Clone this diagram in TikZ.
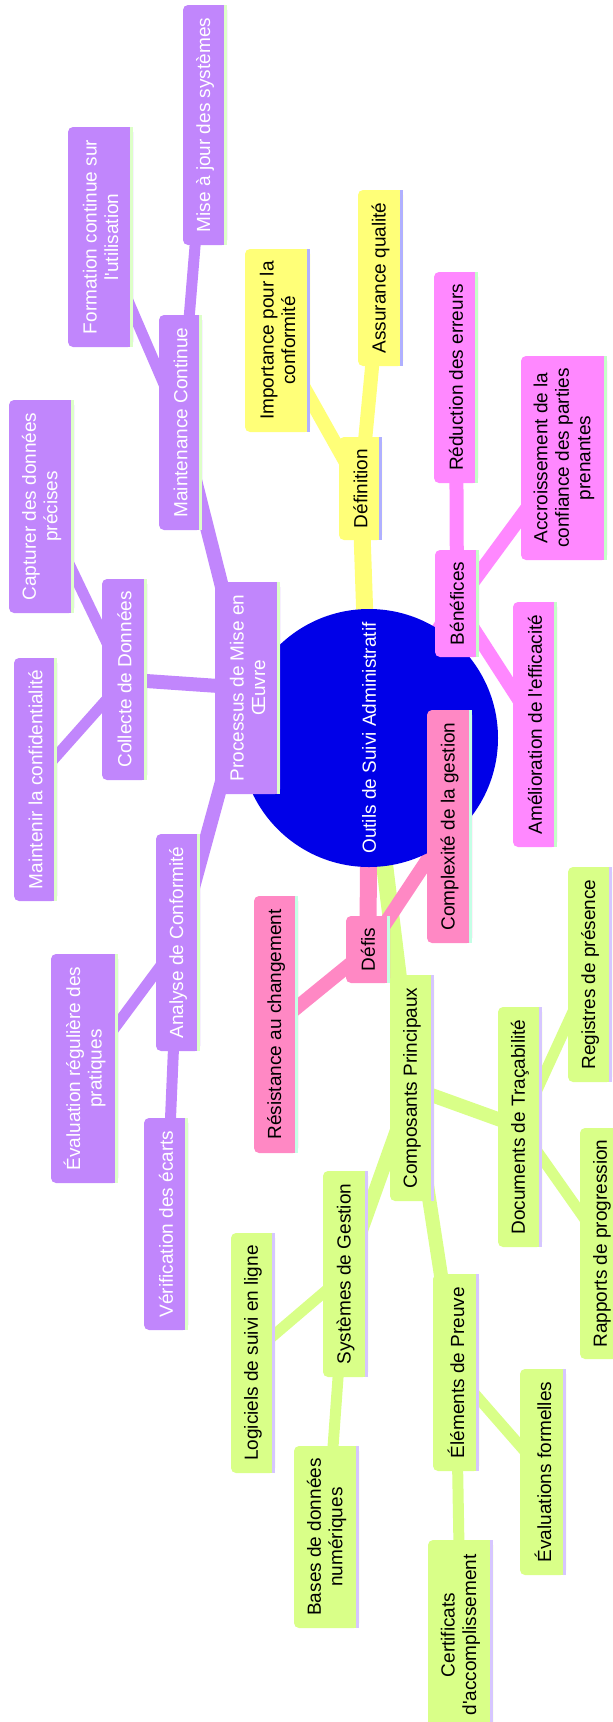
\documentclass[tikz,border=0pt]{standalone}
\usepackage{fontspec}
\setmainfont{Liberation Sans}[Ligatures=TeXOff]
\pgfdeclarelayer{bg}
\pgfsetlayers{bg,main}
\definecolor{cB}{HTML}{0000E8}
\definecolor{cP}{HTML}{C186FC}
\definecolor{cPs}{HTML}{DDFFC8}
\definecolor{cY}{HTML}{FFFF78}
\definecolor{cYs}{HTML}{B0B0FF}
\definecolor{cK}{HTML}{FF88FF}
\definecolor{cKs}{HTML}{C4FFC8}
\definecolor{cR}{HTML}{FF88C4}
\definecolor{cRs}{HTML}{C4FFE6}
\definecolor{cG}{HTML}{D9FF88}
\definecolor{cGs}{HTML}{D6C6FF}
\tikzset{
  mmtext/.style={rotate=90, align=center, inner sep=0pt, font=\fontsize{19}{21.5}\selectfont},
  eA/.style={line width=17pt},
  eB/.style={line width=14pt},
  eC/.style={line width=11pt},
}
% name, x1, y1, x2, y2, fill, strip, text colour, text
\newcommand\mmn[9]{%
  \fill[#6, rounded corners=5pt] (#2,#3) rectangle (#4,#5);
  \fill[#6] ({(#2+#4)/2},#3) rectangle (#4,#5);
  \fill[#7] ({#4-3},#3) rectangle (#4,#5);
  \node[mmtext, text=#8] (#1) at ({(#2+#4)/2},{(#3+#5)/2}) {#9};
}
\begin{document}
\begin{tikzpicture}[x=1pt,y=-1pt]
\useasboundingbox (0,0) rectangle (613,1722);
% root
\fill[cB] (369,738) circle (129);
\node[mmtext, text=white] (root) at (369,738) {Outils de Suivi Administratif};
% yellow: Definition
\mmn{def}{339}{437}{382}{540}{cY}{cYs}{black}{Définition}
\mmn{imp}{245}{249}{310}{432}{cY}{cYs}{black}{Importance pour la\\conformité}
\mmn{assur}{358}{190}{403}{366}{cY}{cYs}{black}{Assurance qualité}
% pink: Benefices
\mmn{ben}{435}{550}{479}{657}{cK}{cKs}{black}{Bénéfices}
\mmn{red}{434}{272}{478}{483}{cK}{cKs}{black}{Réduction des erreurs}
\mmn{accr}{521}{356}{607}{560}{cK}{cKs}{black}{Accroissement de la\\confiance des parties\\prenantes}
\mmn{amel}{513}{602}{557}{847}{cK}{cKs}{black}{Amélioration de l'efficacité}
% pink2: Defis
\mmn{defis}{346}{916}{390}{983}{cR}{cRs}{black}{Défis}
\mmn{resist}{254}{896}{298}{1153}{cR}{cRs}{black}{Résistance au changement}
\mmn{compl}{427}{710}{472}{943}{cR}{cRs}{black}{Complexité de la gestion}
% green: Composants
\mmn{comp}{390}{975}{434}{1201}{cG}{cGs}{black}{Composants Principaux}
\mmn{docs}{498}{1007}{542}{1247}{cG}{cGs}{black}{Documents de Traçabilité}
\mmn{regp}{568}{867}{612}{1082}{cG}{cGs}{black}{Registres de présence}
\mmn{rapp}{580}{1128}{624}{1359}{cG}{cGs}{black}{Rapports de progression}
\mmn{elem}{433}{1274}{479}{1471}{cG}{cGs}{black}{Éléments de Preuve}
\mmn{evalf}{520}{1369}{566}{1575}{cG}{cGs}{black}{Évaluations formelles}
\mmn{cert}{428}{1540}{493}{1730}{cG}{cGs}{black}{Certificats\\d'accomplissement}
\mmn{sys}{323}{1171}{368}{1377}{cG}{cGs}{black}{Systèmes de Gestion}
\mmn{logi}{231}{1233}{275}{1473}{cG}{cGs}{black}{Logiciels de suivi en ligne}
\mmn{bases}{294}{1446}{359}{1628}{cG}{cGs}{black}{Bases de données\\numériques}
% purple: Processus
\mmn{proc}{215}{582}{280}{794}{cP}{cPs}{white}{Processus de Mise en\\Œuvre}
\mmn{maint}{159}{315}{202}{530}{cP}{cPs}{white}{Maintenance Continue}
\mmn{majsys}{183}{5}{227}{245}{cP}{cPs}{white}{Mise à jour des systèmes}
\mmn{form}{68}{127}{133}{347}{cP}{cPs}{white}{Formation continue sur\\l'utilisation}
\mmn{coll}{102}{579}{147}{780}{cP}{cPs}{white}{Collecte de Données}
\mmn{capt}{9}{400}{74}{613}{cP}{cPs}{white}{Capturer des données\\précises}
\mmn{mconf}{14}{658}{57}{901}{cP}{cPs}{white}{Maintenir la confidentialité}
\mmn{anal}{156}{834}{200}{1051}{cP}{cPs}{white}{Analyse de Conformité}
\mmn{evalreg}{51}{954}{118}{1183}{cP}{cPs}{white}{Évaluation régulière des\\pratiques}
\mmn{verif}{144}{1118}{188}{1330}{cP}{cPs}{white}{Vérification des écarts}
% connectors
\begin{pgfonlayer}{bg}
\draw[eA, cY] (root.center) -- (def.center);
\draw[eB, cY] (def.center) -- (imp.center);
\draw[eB, cY] (def.center) -- (assur.center);
\draw[eA, cK] (root.center) -- (ben.center);
\draw[eB, cK] (ben.center) -- (red.center);
\draw[eB, cK] (ben.center) -- (accr.center);
\draw[eB, cK] (ben.center) -- (amel.center);
\draw[eA, cG] (root.center) -- (comp.center);
\draw[eB, cG] (comp.center) -- (docs.center);
\draw[eB, cG] (comp.center) -- (elem.center);
\draw[eB, cG] (comp.center) -- (sys.center);
\draw[eC, cG] (docs.center) -- (regp.center);
\draw[eC, cG] (docs.center) -- (rapp.center);
\draw[eC, cG] (elem.center) -- (evalf.center);
\draw[eC, cG] (elem.center) -- (cert.center);
\draw[eC, cG] (sys.center) -- (logi.center);
\draw[eC, cG] (sys.center) -- (bases.center);
\draw[eA, cP] (root.center) -- (proc.center);
\draw[eB, cP] (proc.center) -- (maint.center);
\draw[eB, cP] (proc.center) -- (coll.center);
\draw[eB, cP] (proc.center) -- (anal.center);
\draw[eC, cP] (maint.center) -- (form.center);
\draw[eC, cP] (maint.center) -- (majsys.center);
\draw[eC, cP] (coll.center) -- (capt.center);
\draw[eC, cP] (coll.center) -- (mconf.center);
\draw[eC, cP] (anal.center) -- (evalreg.center);
\draw[eC, cP] (anal.center) -- (verif.center);
\draw[eA, cR] (root.center) -- (defis.center);
\draw[eB, cR] (defis.center) -- (resist.center);
\draw[eB, cR] (defis.center) -- (compl.center);
\end{pgfonlayer}
\end{tikzpicture}
\end{document}
